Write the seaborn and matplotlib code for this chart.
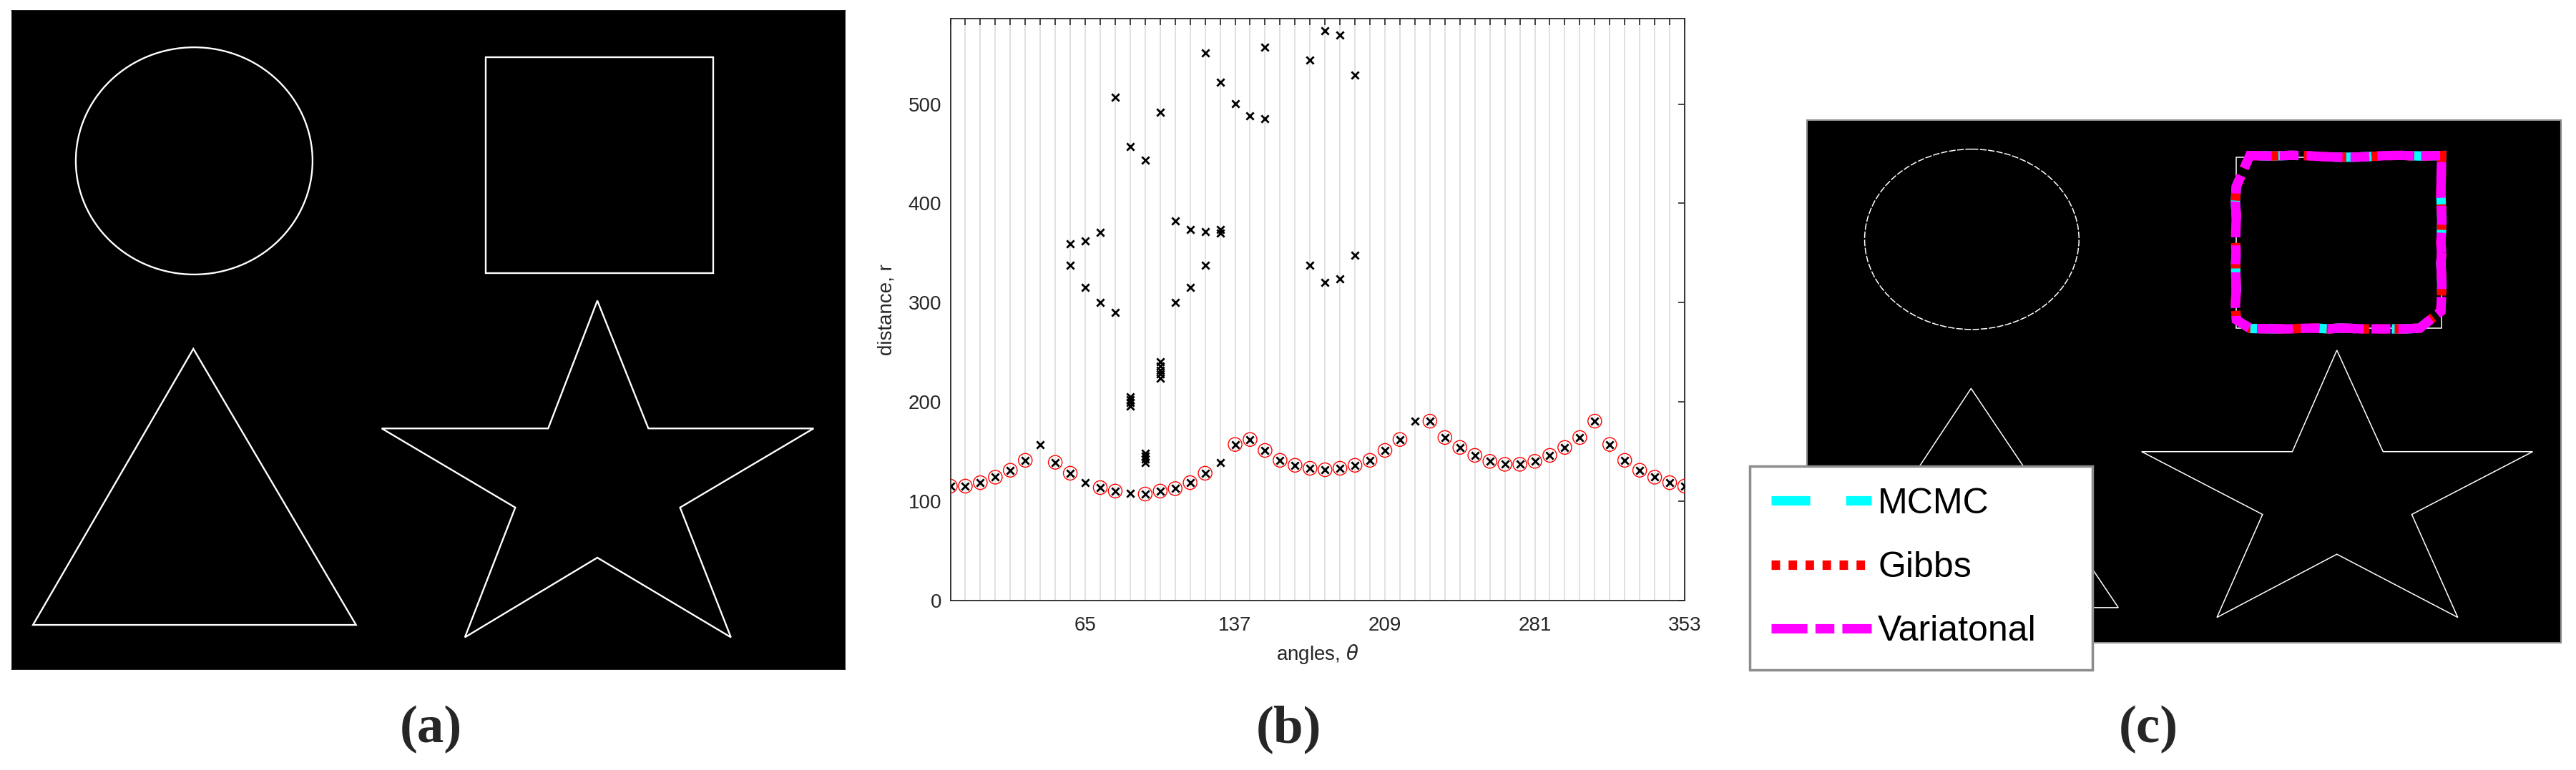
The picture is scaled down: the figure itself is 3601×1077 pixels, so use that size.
import numpy as np
import pandas as pd
import matplotlib
matplotlib.use("Agg")
import matplotlib.pyplot as plt
from matplotlib import patches
import seaborn as sns

# ------------------------------------------------------------------ data
# sampled angles (degrees)
THETA = [0.0, 7.2, 14.4, 21.6, 28.8, 36.0, 43.2, 50.4, 57.6, 64.8,
         72.0, 79.2, 86.4, 93.6, 100.8, 108.0, 115.2, 122.4, 129.6, 136.8,
         144.0, 151.2, 158.4, 165.6, 172.8, 180.0, 187.2, 194.4, 201.6, 208.8,
         216.0, 223.2, 230.4, 237.6, 244.8, 252.0, 259.2, 266.4, 273.6, 280.8,
         288.0, 295.2, 302.4, 309.6, 316.8, 324.0, 331.2, 338.4, 345.6, 352.8]
# nearest-boundary distance at each angle
R_NEAR = [115, 115, 118.5, 124, 131, 141, 157, 139, 128, 118.5,
          113.5, 110, 107.5, 107, 110, 112.5, 118.5, 128, 139, 157,
          162, 151, 141, 136, 133, 131.5, 133, 136, 141, 151,
          162, 180.5, 180.5, 164, 154, 146, 140, 137, 137, 140,
          146, 154, 164, 180.5, 157, 141, 131, 124, 118.5, 115]
# 1 = selected (circled) as belonging to the square contour
SELECTED = [1, 1, 1, 1, 1, 1, 0, 1, 1, 0,
            1, 1, 0, 1, 1, 1, 1, 1, 0, 1,
            1, 1, 1, 1, 1, 1, 1, 1, 1, 1,
            1, 0, 1, 1, 1, 1, 1, 1, 1, 1,
            1, 1, 1, 1, 1, 1, 1, 1, 1, 1]
# further candidate distances (angle index, distance)
FAR_IDX = [8, 8, 9, 9, 10, 10, 11, 11,
           12, 12, 12, 12, 12, 13, 13, 13, 13, 13,
           14, 14, 14, 14, 14, 14, 15, 15, 16, 16,
           17, 17, 17, 18, 18, 18, 19, 20, 21, 21,
           24, 24, 25, 25, 26, 26, 27, 27]
FAR_R = [359.6, 337.8, 362.3, 315.4, 370.6, 299.9, 507.2, 290.2,
         457.5, 196, 199, 202, 205, 443.6, 139, 142, 145, 148,
         492.2, 224, 228, 232, 236, 240, 382.3, 299.9, 373.8, 315.4,
         551.7, 371.2, 337.8, 521.8, 370, 374, 500.7, 488.6, 557.4, 485.3,
         544.5, 337.8, 574, 320.5, 570, 324, 529, 348]
XTICK_IDX = [9, 19, 29, 39, 49]
XTICK_LABELS = ["65", "137", "209", "281", "353"]
YTICKS = [0, 100, 200, 300, 400, 500]

# test image (pixel units) and its shapes
IMG_W, IMG_H = 904, 745
CIRCLE_C = (197.6, 169.9)
CIRCLE_R = 128.5
SQUARE_X = [514.4, 760.8, 760.8, 514.4]
SQUARE_Y = [52.6, 52.6, 296.5, 296.5]
TRI_X = [196.7, 373.3, 22.6]
TRI_Y = [382.5, 694.9, 694.9]
STAR_X = [635.3, 690.7, 870.1, 725.1, 780.3, 635.3, 491.5, 546.2, 401.2, 581.9]
STAR_Y = [328.0, 472.6, 472.6, 562.1, 708.9, 618.8, 708.9, 562.1, 472.6, 472.6]
CENTER = (645.9, 189.6)   # reference point of the polar contour
METHODS = ["MCMC", "Gibbs", "Variatonal"]

# ------------------------------------------------------------------ style
sns.set_theme(style="white")
plt.rcParams["font.family"] = ["Liberation Sans", "DejaVu Sans"]
plt.rcParams["mathtext.fontset"] = "dejavusans"
AX_C = "#262626"

W_PX, H_PX = 3601, 1077
fig = plt.figure(figsize=(W_PX / 100, H_PX / 100), dpi=100)
fig.patch.set_facecolor("white")


def fr(x0, y0, x1, y1):
    return [x0 / W_PX, 1 - y1 / H_PX, (x1 - x0) / W_PX, (y1 - y0) / H_PX]


def draw_shapes(ax, lw, circle_dashes=None):
    circ = patches.Ellipse(CIRCLE_C, 2 * CIRCLE_R, 2 * CIRCLE_R, fill=False,
                           ec="white", lw=lw)
    if circle_dashes:
        circ.set_linestyle((0, circle_dashes))
    ax.add_patch(circ)
    for xs, ys in [(SQUARE_X, SQUARE_Y), (TRI_X, TRI_Y), (STAR_X, STAR_Y)]:
        ax.add_patch(patches.Polygon(np.column_stack([xs, ys]), closed=True,
                                     fill=False, ec="white", lw=lw,
                                     joinstyle="miter"))
    ax.set_xlim(0, IMG_W)
    ax.set_ylim(IMG_H, 0)
    ax.set_xticks([])
    ax.set_yticks([])
    ax.set_facecolor("black")


# ------------------------------------------------------------------ (a)
axa = fig.add_axes(fr(17, 15, 1181, 936))
draw_shapes(axa, 1.7)
for s in axa.spines.values():
    s.set_color("black")

# ------------------------------------------------------------------ (b)
axb = fig.add_axes(fr(1328.5, 26.4, 2355, 839.5))
theta = np.array(THETA)
near = pd.DataFrame({"theta": theta, "r": R_NEAR, "sel": SELECTED})
far = pd.DataFrame({"theta": theta[np.array(FAR_IDX)], "r": FAR_R})
cands = pd.concat([near[["theta", "r"]], far], ignore_index=True)
chosen = near[near["sel"] == 1]

sns.scatterplot(data=cands, x="theta", y="r", marker="x", color="black",
                s=55, linewidth=2.0, ax=axb, zorder=3, legend=False)
sns.scatterplot(data=chosen, x="theta", y="r", marker="o", s=190,
                facecolor="none", edgecolor="red", linewidth=1.0,
                ax=axb, zorder=4, legend=False)

axb.set_xlim(0, THETA[-1])
axb.set_ylim(0, 586)
axb.set_xticks(THETA)
labels = [""] * len(THETA)
for i, lab in zip(XTICK_IDX, XTICK_LABELS):
    labels[i] = lab
axb.set_xticklabels(labels)
axb.set_yticks(YTICKS)
axb.grid(axis="x", color="#dedede", lw=1.3)
axb.grid(axis="y", visible=False)
axb.set_axisbelow(True)
axb.tick_params(axis="both", direction="in", length=6.5, width=1.2,
                color=AX_C, labelcolor=AX_C, labelsize=20,
                top=True, right=True)
axb.tick_params(axis="x", pad=16)
axb.tick_params(axis="y", pad=9)
for s in axb.spines.values():
    s.set_color(AX_C)
    s.set_linewidth(1.3)
axb.set_xlabel(r"angles, $\theta$", fontsize=20, color=AX_C, labelpad=8)
axb.set_ylabel("distance, r", fontsize=20, color=AX_C, labelpad=12)

# ------------------------------------------------------------------ (c)
axc = fig.add_axes(fr(2526, 168, 3580, 899))
draw_shapes(axc, 1.1, circle_dashes=(6, 1.5))
for s in axc.spines.values():
    s.set_color("#8c8c8c")
    s.set_linewidth(1.5)

cx, cy = CENTER
th = np.deg2rad(chosen["theta"].to_numpy())
rr = chosen["r"].to_numpy()
px = cx + rr * np.cos(th)
py = cy + rr * np.sin(th)
px = np.append(px, px[0])
py = np.append(py, py[0])
contour = pd.DataFrame({"x": px, "y": py})

styles = [dict(color="#00ffff", dashes=(4.1, 3.8)),
          dict(color="#ff0000", dashes=(0.9, 0.9)),
          dict(color="#ff00ff", dashes=(3.8, 0.85, 2.0, 0.85))]
handles = []
for name, st in zip(METHODS, styles):
    (ln,) = axc.plot(contour["x"], contour["y"], color=st["color"], lw=9.5,
                     dashes=st["dashes"], label=name, solid_capstyle="butt",
                     dash_capstyle="butt", dash_joinstyle="miter")
    handles.append(ln)

leg_top = 1 - 651.5 / H_PX
leg = fig.legend(handles=handles, labels=METHODS, loc="upper left",
                 bbox_to_anchor=(2446 / W_PX, leg_top - 0.01,
                                 (2925 - 2446) / W_PX, 0.01),
                 mode="expand", fontsize=36, handlelength=2.8,
                 handletextpad=0.18, labelspacing=0.87, borderpad=0.6,
                 borderaxespad=0, fancybox=False, framealpha=1,
                 edgecolor="#8c8c8c", facecolor="white")
leg.get_frame().set_linewidth(2.5)
for t in leg.get_texts():
    t.set_color("black")

# ------------------------------------------------------------------ panel labels
for lab, xc in zip(["(a)", "(b)", "(c)"], [602, 1801, 3003]):
    fig.text(xc / W_PX, 1 - 1020 / H_PX, lab, ha="center", va="center",
             fontsize=54, fontweight="bold",
             family=["Liberation Serif", "DejaVu Serif"])

fig.savefig("out.png", dpi=100, facecolor="white")
